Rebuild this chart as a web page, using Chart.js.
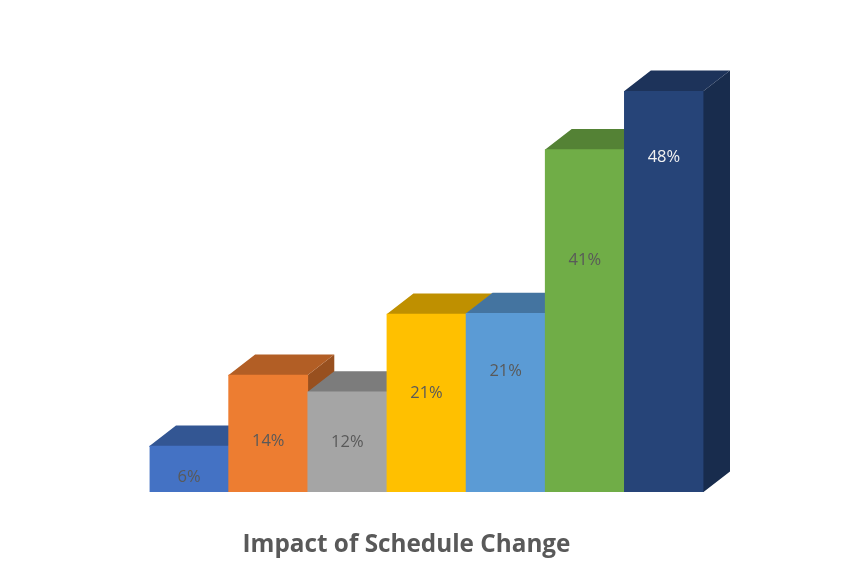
<!DOCTYPE html>
<html>
<head>
<meta charset="utf-8">
<title>Impact of Schedule Change</title>
<script src="https://cdn.jsdelivr.net/npm/chart.js@4/dist/chart.umd.min.js"></script>
<style>
  html, body { margin: 0; padding: 0; background: #ffffff; }
  #wrap { position: relative; width: 852px; height: 572px; }
</style>
</head>
<body>
<div id="wrap"><canvas id="chart" width="852" height="572"></canvas></div>
<script>
const chartTitle = 'Impact of Schedule Change';
const categories = ['A', 'B', 'C', 'D', 'E', 'F', 'G'];
const seriesValues = [5.5, 14, 12, 21.3, 21.4, 41, 48];
const valueLabels = ['6%', '14%', '12%', '21%', '21%', '41%', '48%'];
// where each label sits, in value units
const labelAnchors = [1.8, 6.1, 5.9, 11.8, 14.5, 27.7, 40.1];
const barColors = ['#4472C4', '#ED7D31', '#A5A5A5', '#FFC000', '#5B9BD5', '#70AD47', '#264478'];
const labelColors = ['#595959', '#595959', '#595959', '#595959', '#595959', '#595959', '#F2F2F2'];

const DEPTH_X = 26.5;
const DEPTH_Y = 20.5;

function shade(hex, factor) {
  const n = parseInt(hex.slice(1), 16);
  const r = Math.round((n >> 16) * factor);
  const g = Math.round(((n >> 8) & 255) * factor);
  const b = Math.round((n & 255) * factor);
  return `rgb(${r}, ${g}, ${b})`;
}

function polygon(ctx, points, color) {
  ctx.beginPath();
  points.forEach(([x, y], i) => (i ? ctx.lineTo(x, y) : ctx.moveTo(x, y)));
  ctx.closePath();
  ctx.fillStyle = color;
  ctx.fill();
}

// top and side faces go under the bars, left to right.
// each face runs 1px under the front so no light seam shows
const depthFaces = {
  id: 'depthFaces',
  beforeDatasetsDraw(chart) {
    const { ctx } = chart;
    chart.getDatasetMeta(0).data.forEach((bar, i) => {
      const left = bar.x - bar.width / 2;
      const right = bar.x + bar.width / 2;
      polygon(ctx, [
        [right - 1, bar.y],
        [right, bar.y],
        [right + DEPTH_X, bar.y - DEPTH_Y],
        [right + DEPTH_X, bar.base - DEPTH_Y],
        [right, bar.base],
        [right - 1, bar.base],
      ], shade(barColors[i], 0.64));
      polygon(ctx, [
        [left, bar.y],
        [left + DEPTH_X, bar.y - DEPTH_Y],
        [right + DEPTH_X, bar.y - DEPTH_Y],
        [right, bar.y],
        [right, bar.y + 1],
        [left, bar.y + 1],
      ], shade(barColors[i], 0.75));
    });
  },
};

const barText = {
  id: 'barText',
  afterDatasetsDraw(chart) {
    const { ctx, scales } = chart;
    ctx.save();
    ctx.textAlign = 'center';
    ctx.textBaseline = 'middle';
    ctx.font = '16.5px "Open Sans", sans-serif';
    chart.getDatasetMeta(0).data.forEach((bar, i) => {
      ctx.fillStyle = labelColors[i];
      ctx.fillText(valueLabels[i], bar.x, scales.y.getPixelForValue(labelAnchors[i]));
    });
    ctx.font = 'bold 24.3px "Open Sans", sans-serif';
    ctx.fillStyle = '#595959';
    ctx.fillText(chartTitle, 406.5, 545);
    ctx.restore();
  },
};

new Chart(document.getElementById('chart'), {
  type: 'bar',
  data: {
    labels: categories,
    datasets: [{
      data: seriesValues,
      backgroundColor: barColors,
      borderWidth: 0,
      barPercentage: 1,
      categoryPercentage: 1,
    }],
  },
  options: {
    responsive: false,
    animation: false,
    layout: { padding: { left: 149.5, right: 148.5, top: 91, bottom: 80 } },
    plugins: {
      legend: { display: false },
      tooltip: { enabled: false },
    },
    scales: {
      x: { display: false },
      y: { display: false, min: 0, max: 48 },
    },
  },
  plugins: [depthFaces, barText],
});
</script>
</body>
</html>
